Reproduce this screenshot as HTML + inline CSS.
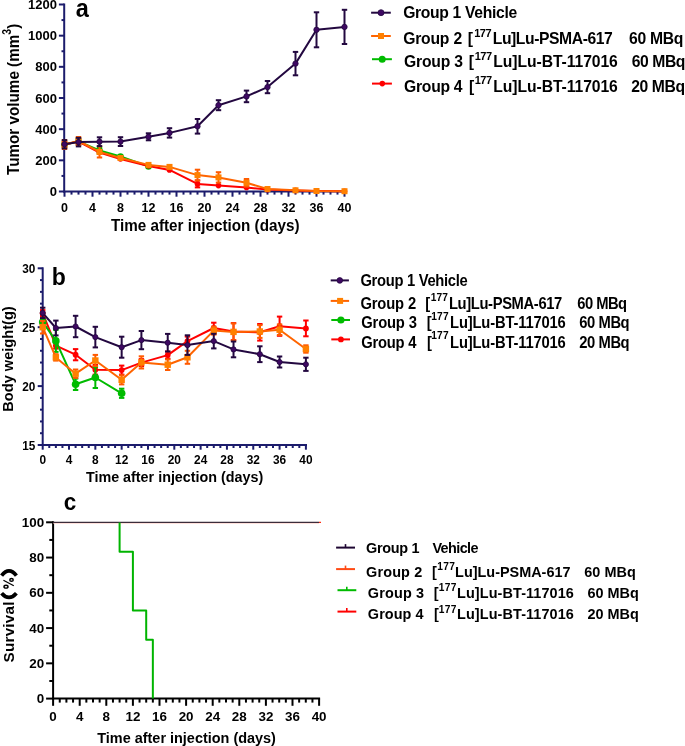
<!DOCTYPE html>
<html><head><meta charset="utf-8"><style>
html,body{margin:0;padding:0;background:#fff;}
svg{display:block;will-change:transform;}
</style></head><body>
<svg width="685" height="746" viewBox="0 0 685 746">
<rect width="685" height="746" fill="#fff"/>
<g font-family="Liberation Sans, sans-serif" font-weight="bold">
<line x1="64.20" y1="3.50" x2="64.20" y2="192.50" stroke="#1c1c6c" stroke-width="2" stroke-linecap="butt"/>
<line x1="63.20" y1="191.50" x2="345.80" y2="191.50" stroke="#1c1c6c" stroke-width="2" stroke-linecap="butt"/>
<line x1="61.50" y1="175.92" x2="64.20" y2="175.92" stroke="#1c1c6c" stroke-width="2" stroke-linecap="butt"/>
<line x1="61.50" y1="144.75" x2="64.20" y2="144.75" stroke="#1c1c6c" stroke-width="2" stroke-linecap="butt"/>
<line x1="61.50" y1="113.58" x2="64.20" y2="113.58" stroke="#1c1c6c" stroke-width="2" stroke-linecap="butt"/>
<line x1="61.50" y1="82.42" x2="64.20" y2="82.42" stroke="#1c1c6c" stroke-width="2" stroke-linecap="butt"/>
<line x1="61.50" y1="51.25" x2="64.20" y2="51.25" stroke="#1c1c6c" stroke-width="2" stroke-linecap="butt"/>
<line x1="61.50" y1="20.08" x2="64.20" y2="20.08" stroke="#1c1c6c" stroke-width="2" stroke-linecap="butt"/>
<line x1="58.90" y1="191.50" x2="64.20" y2="191.50" stroke="#1c1c6c" stroke-width="2" stroke-linecap="butt"/>
<text transform="translate(57.00,196.10) scale(1,1.04)" font-size="13.0" text-anchor="end" fill="#000" >0</text>
<line x1="58.90" y1="160.33" x2="64.20" y2="160.33" stroke="#1c1c6c" stroke-width="2" stroke-linecap="butt"/>
<text transform="translate(57.00,164.93) scale(1,1.04)" font-size="13.0" text-anchor="end" fill="#000" >200</text>
<line x1="58.90" y1="129.17" x2="64.20" y2="129.17" stroke="#1c1c6c" stroke-width="2" stroke-linecap="butt"/>
<text transform="translate(57.00,133.77) scale(1,1.04)" font-size="13.0" text-anchor="end" fill="#000" >400</text>
<line x1="58.90" y1="98.00" x2="64.20" y2="98.00" stroke="#1c1c6c" stroke-width="2" stroke-linecap="butt"/>
<text transform="translate(57.00,102.60) scale(1,1.04)" font-size="13.0" text-anchor="end" fill="#000" >600</text>
<line x1="58.90" y1="66.83" x2="64.20" y2="66.83" stroke="#1c1c6c" stroke-width="2" stroke-linecap="butt"/>
<text transform="translate(57.00,71.43) scale(1,1.04)" font-size="13.0" text-anchor="end" fill="#000" >800</text>
<line x1="58.90" y1="35.67" x2="64.20" y2="35.67" stroke="#1c1c6c" stroke-width="2" stroke-linecap="butt"/>
<text transform="translate(57.00,40.27) scale(1,1.04)" font-size="13.0" text-anchor="end" fill="#000" >1000</text>
<line x1="58.90" y1="4.50" x2="64.20" y2="4.50" stroke="#1c1c6c" stroke-width="2" stroke-linecap="butt"/>
<text transform="translate(57.00,9.10) scale(1,1.04)" font-size="13.0" text-anchor="end" fill="#000" >1200</text>
<line x1="64.50" y1="191.50" x2="64.50" y2="196.70" stroke="#1c1c6c" stroke-width="2" stroke-linecap="butt"/>
<text transform="translate(64.50,211.70) scale(1,1.04)" font-size="12.5" text-anchor="middle" fill="#000" >0</text>
<line x1="71.50" y1="191.50" x2="71.50" y2="194.60" stroke="#1c1c6c" stroke-width="2" stroke-linecap="butt"/>
<line x1="78.50" y1="191.50" x2="78.50" y2="194.60" stroke="#1c1c6c" stroke-width="2" stroke-linecap="butt"/>
<line x1="85.50" y1="191.50" x2="85.50" y2="194.60" stroke="#1c1c6c" stroke-width="2" stroke-linecap="butt"/>
<line x1="92.50" y1="191.50" x2="92.50" y2="196.70" stroke="#1c1c6c" stroke-width="2" stroke-linecap="butt"/>
<text transform="translate(92.50,211.70) scale(1,1.04)" font-size="12.5" text-anchor="middle" fill="#000" >4</text>
<line x1="99.50" y1="191.50" x2="99.50" y2="194.60" stroke="#1c1c6c" stroke-width="2" stroke-linecap="butt"/>
<line x1="106.50" y1="191.50" x2="106.50" y2="194.60" stroke="#1c1c6c" stroke-width="2" stroke-linecap="butt"/>
<line x1="113.50" y1="191.50" x2="113.50" y2="194.60" stroke="#1c1c6c" stroke-width="2" stroke-linecap="butt"/>
<line x1="120.50" y1="191.50" x2="120.50" y2="196.70" stroke="#1c1c6c" stroke-width="2" stroke-linecap="butt"/>
<text transform="translate(120.50,211.70) scale(1,1.04)" font-size="12.5" text-anchor="middle" fill="#000" >8</text>
<line x1="127.50" y1="191.50" x2="127.50" y2="194.60" stroke="#1c1c6c" stroke-width="2" stroke-linecap="butt"/>
<line x1="134.50" y1="191.50" x2="134.50" y2="194.60" stroke="#1c1c6c" stroke-width="2" stroke-linecap="butt"/>
<line x1="141.50" y1="191.50" x2="141.50" y2="194.60" stroke="#1c1c6c" stroke-width="2" stroke-linecap="butt"/>
<line x1="148.50" y1="191.50" x2="148.50" y2="196.70" stroke="#1c1c6c" stroke-width="2" stroke-linecap="butt"/>
<text transform="translate(148.50,211.70) scale(1,1.04)" font-size="12.5" text-anchor="middle" fill="#000" >12</text>
<line x1="155.50" y1="191.50" x2="155.50" y2="194.60" stroke="#1c1c6c" stroke-width="2" stroke-linecap="butt"/>
<line x1="162.50" y1="191.50" x2="162.50" y2="194.60" stroke="#1c1c6c" stroke-width="2" stroke-linecap="butt"/>
<line x1="169.50" y1="191.50" x2="169.50" y2="194.60" stroke="#1c1c6c" stroke-width="2" stroke-linecap="butt"/>
<line x1="176.50" y1="191.50" x2="176.50" y2="196.70" stroke="#1c1c6c" stroke-width="2" stroke-linecap="butt"/>
<text transform="translate(176.50,211.70) scale(1,1.04)" font-size="12.5" text-anchor="middle" fill="#000" >16</text>
<line x1="183.50" y1="191.50" x2="183.50" y2="194.60" stroke="#1c1c6c" stroke-width="2" stroke-linecap="butt"/>
<line x1="190.50" y1="191.50" x2="190.50" y2="194.60" stroke="#1c1c6c" stroke-width="2" stroke-linecap="butt"/>
<line x1="197.50" y1="191.50" x2="197.50" y2="194.60" stroke="#1c1c6c" stroke-width="2" stroke-linecap="butt"/>
<line x1="204.50" y1="191.50" x2="204.50" y2="196.70" stroke="#1c1c6c" stroke-width="2" stroke-linecap="butt"/>
<text transform="translate(204.50,211.70) scale(1,1.04)" font-size="12.5" text-anchor="middle" fill="#000" >20</text>
<line x1="211.50" y1="191.50" x2="211.50" y2="194.60" stroke="#1c1c6c" stroke-width="2" stroke-linecap="butt"/>
<line x1="218.50" y1="191.50" x2="218.50" y2="194.60" stroke="#1c1c6c" stroke-width="2" stroke-linecap="butt"/>
<line x1="225.50" y1="191.50" x2="225.50" y2="194.60" stroke="#1c1c6c" stroke-width="2" stroke-linecap="butt"/>
<line x1="232.50" y1="191.50" x2="232.50" y2="196.70" stroke="#1c1c6c" stroke-width="2" stroke-linecap="butt"/>
<text transform="translate(232.50,211.70) scale(1,1.04)" font-size="12.5" text-anchor="middle" fill="#000" >24</text>
<line x1="239.50" y1="191.50" x2="239.50" y2="194.60" stroke="#1c1c6c" stroke-width="2" stroke-linecap="butt"/>
<line x1="246.50" y1="191.50" x2="246.50" y2="194.60" stroke="#1c1c6c" stroke-width="2" stroke-linecap="butt"/>
<line x1="253.50" y1="191.50" x2="253.50" y2="194.60" stroke="#1c1c6c" stroke-width="2" stroke-linecap="butt"/>
<line x1="260.50" y1="191.50" x2="260.50" y2="196.70" stroke="#1c1c6c" stroke-width="2" stroke-linecap="butt"/>
<text transform="translate(260.50,211.70) scale(1,1.04)" font-size="12.5" text-anchor="middle" fill="#000" >28</text>
<line x1="267.50" y1="191.50" x2="267.50" y2="194.60" stroke="#1c1c6c" stroke-width="2" stroke-linecap="butt"/>
<line x1="274.50" y1="191.50" x2="274.50" y2="194.60" stroke="#1c1c6c" stroke-width="2" stroke-linecap="butt"/>
<line x1="281.50" y1="191.50" x2="281.50" y2="194.60" stroke="#1c1c6c" stroke-width="2" stroke-linecap="butt"/>
<line x1="288.50" y1="191.50" x2="288.50" y2="196.70" stroke="#1c1c6c" stroke-width="2" stroke-linecap="butt"/>
<text transform="translate(288.50,211.70) scale(1,1.04)" font-size="12.5" text-anchor="middle" fill="#000" >32</text>
<line x1="295.50" y1="191.50" x2="295.50" y2="194.60" stroke="#1c1c6c" stroke-width="2" stroke-linecap="butt"/>
<line x1="302.50" y1="191.50" x2="302.50" y2="194.60" stroke="#1c1c6c" stroke-width="2" stroke-linecap="butt"/>
<line x1="309.50" y1="191.50" x2="309.50" y2="194.60" stroke="#1c1c6c" stroke-width="2" stroke-linecap="butt"/>
<line x1="316.50" y1="191.50" x2="316.50" y2="196.70" stroke="#1c1c6c" stroke-width="2" stroke-linecap="butt"/>
<text transform="translate(316.50,211.70) scale(1,1.04)" font-size="12.5" text-anchor="middle" fill="#000" >36</text>
<line x1="323.50" y1="191.50" x2="323.50" y2="194.60" stroke="#1c1c6c" stroke-width="2" stroke-linecap="butt"/>
<line x1="330.50" y1="191.50" x2="330.50" y2="194.60" stroke="#1c1c6c" stroke-width="2" stroke-linecap="butt"/>
<line x1="337.50" y1="191.50" x2="337.50" y2="194.60" stroke="#1c1c6c" stroke-width="2" stroke-linecap="butt"/>
<line x1="344.50" y1="191.50" x2="344.50" y2="196.70" stroke="#1c1c6c" stroke-width="2" stroke-linecap="butt"/>
<text transform="translate(344.50,211.70) scale(1,1.04)" font-size="12.5" text-anchor="middle" fill="#000" >40</text>
<polyline points="64.50,144.50 78.50,141.50 99.50,150.50 120.50,156.50 148.50,166.40" fill="none" stroke="#00bb00" stroke-width="2" stroke-linejoin="round"/>
<line x1="64.50" y1="141.50" x2="64.50" y2="147.50" stroke="#00bb00" stroke-width="2" stroke-linecap="butt"/>
<line x1="61.80" y1="141.50" x2="67.20" y2="141.50" stroke="#00bb00" stroke-width="2" stroke-linecap="butt"/>
<line x1="61.80" y1="147.50" x2="67.20" y2="147.50" stroke="#00bb00" stroke-width="2" stroke-linecap="butt"/>
<line x1="78.50" y1="138.50" x2="78.50" y2="144.50" stroke="#00bb00" stroke-width="2" stroke-linecap="butt"/>
<line x1="75.80" y1="138.50" x2="81.20" y2="138.50" stroke="#00bb00" stroke-width="2" stroke-linecap="butt"/>
<line x1="75.80" y1="144.50" x2="81.20" y2="144.50" stroke="#00bb00" stroke-width="2" stroke-linecap="butt"/>
<line x1="99.50" y1="147.50" x2="99.50" y2="153.50" stroke="#00bb00" stroke-width="2" stroke-linecap="butt"/>
<line x1="96.80" y1="147.50" x2="102.20" y2="147.50" stroke="#00bb00" stroke-width="2" stroke-linecap="butt"/>
<line x1="96.80" y1="153.50" x2="102.20" y2="153.50" stroke="#00bb00" stroke-width="2" stroke-linecap="butt"/>
<circle cx="64.50" cy="144.50" r="3.3" fill="#00bb00"/>
<circle cx="78.50" cy="141.50" r="3.3" fill="#00bb00"/>
<circle cx="99.50" cy="150.50" r="3.3" fill="#00bb00"/>
<circle cx="120.50" cy="156.50" r="3.3" fill="#00bb00"/>
<circle cx="148.50" cy="166.40" r="3.3" fill="#00bb00"/>
<polyline points="64.50,144.50 78.50,141.50 99.50,152.50 120.50,159.00 148.50,166.00 169.50,169.90 197.50,183.90 218.50,185.60 246.50,187.40 267.50,189.60 295.50,190.40 316.50,191.00 344.50,191.20" fill="none" stroke="#ff0000" stroke-width="2" stroke-linejoin="round"/>
<line x1="64.50" y1="141.50" x2="64.50" y2="147.50" stroke="#ff0000" stroke-width="2" stroke-linecap="butt"/>
<line x1="61.80" y1="141.50" x2="67.20" y2="141.50" stroke="#ff0000" stroke-width="2" stroke-linecap="butt"/>
<line x1="61.80" y1="147.50" x2="67.20" y2="147.50" stroke="#ff0000" stroke-width="2" stroke-linecap="butt"/>
<line x1="78.50" y1="138.50" x2="78.50" y2="144.50" stroke="#ff0000" stroke-width="2" stroke-linecap="butt"/>
<line x1="75.80" y1="138.50" x2="81.20" y2="138.50" stroke="#ff0000" stroke-width="2" stroke-linecap="butt"/>
<line x1="75.80" y1="144.50" x2="81.20" y2="144.50" stroke="#ff0000" stroke-width="2" stroke-linecap="butt"/>
<line x1="197.50" y1="180.40" x2="197.50" y2="187.40" stroke="#ff0000" stroke-width="2" stroke-linecap="butt"/>
<line x1="194.80" y1="180.40" x2="200.20" y2="180.40" stroke="#ff0000" stroke-width="2" stroke-linecap="butt"/>
<line x1="194.80" y1="187.40" x2="200.20" y2="187.40" stroke="#ff0000" stroke-width="2" stroke-linecap="butt"/>
<circle cx="64.50" cy="144.50" r="2.8" fill="#ff0000"/>
<circle cx="78.50" cy="141.50" r="2.8" fill="#ff0000"/>
<circle cx="99.50" cy="152.50" r="2.8" fill="#ff0000"/>
<circle cx="120.50" cy="159.00" r="2.8" fill="#ff0000"/>
<circle cx="148.50" cy="166.00" r="2.8" fill="#ff0000"/>
<circle cx="169.50" cy="169.90" r="2.8" fill="#ff0000"/>
<circle cx="197.50" cy="183.90" r="2.8" fill="#ff0000"/>
<circle cx="218.50" cy="185.60" r="2.8" fill="#ff0000"/>
<circle cx="246.50" cy="187.40" r="2.8" fill="#ff0000"/>
<circle cx="267.50" cy="189.60" r="2.8" fill="#ff0000"/>
<circle cx="295.50" cy="190.40" r="2.8" fill="#ff0000"/>
<circle cx="316.50" cy="191.00" r="2.8" fill="#ff0000"/>
<circle cx="344.50" cy="191.20" r="2.8" fill="#ff0000"/>
<polyline points="64.50,144.50 78.50,141.00 99.50,151.90 120.50,158.00 148.50,164.90 169.50,166.90 197.50,175.10 218.50,177.40 246.50,182.80 267.50,189.00 295.50,190.30 316.50,191.00 344.50,191.20" fill="none" stroke="#ff6400" stroke-width="2" stroke-linejoin="round"/>
<line x1="64.50" y1="140.00" x2="64.50" y2="149.00" stroke="#ff5a00" stroke-width="2" stroke-linecap="butt"/>
<line x1="61.80" y1="140.00" x2="67.20" y2="140.00" stroke="#ff5a00" stroke-width="2" stroke-linecap="butt"/>
<line x1="61.80" y1="149.00" x2="67.20" y2="149.00" stroke="#ff5a00" stroke-width="2" stroke-linecap="butt"/>
<line x1="78.50" y1="137.00" x2="78.50" y2="145.00" stroke="#ff5a00" stroke-width="2" stroke-linecap="butt"/>
<line x1="75.80" y1="137.00" x2="81.20" y2="137.00" stroke="#ff5a00" stroke-width="2" stroke-linecap="butt"/>
<line x1="75.80" y1="145.00" x2="81.20" y2="145.00" stroke="#ff5a00" stroke-width="2" stroke-linecap="butt"/>
<line x1="99.50" y1="146.30" x2="99.50" y2="157.50" stroke="#ff5a00" stroke-width="2" stroke-linecap="butt"/>
<line x1="96.80" y1="146.30" x2="102.20" y2="146.30" stroke="#ff5a00" stroke-width="2" stroke-linecap="butt"/>
<line x1="96.80" y1="157.50" x2="102.20" y2="157.50" stroke="#ff5a00" stroke-width="2" stroke-linecap="butt"/>
<line x1="197.50" y1="169.70" x2="197.50" y2="180.50" stroke="#ff5a00" stroke-width="2" stroke-linecap="butt"/>
<line x1="194.80" y1="169.70" x2="200.20" y2="169.70" stroke="#ff5a00" stroke-width="2" stroke-linecap="butt"/>
<line x1="194.80" y1="180.50" x2="200.20" y2="180.50" stroke="#ff5a00" stroke-width="2" stroke-linecap="butt"/>
<line x1="218.50" y1="172.20" x2="218.50" y2="182.60" stroke="#ff5a00" stroke-width="2" stroke-linecap="butt"/>
<line x1="215.80" y1="172.20" x2="221.20" y2="172.20" stroke="#ff5a00" stroke-width="2" stroke-linecap="butt"/>
<line x1="215.80" y1="182.60" x2="221.20" y2="182.60" stroke="#ff5a00" stroke-width="2" stroke-linecap="butt"/>
<line x1="246.50" y1="179.00" x2="246.50" y2="186.60" stroke="#ff5a00" stroke-width="2" stroke-linecap="butt"/>
<line x1="243.80" y1="179.00" x2="249.20" y2="179.00" stroke="#ff5a00" stroke-width="2" stroke-linecap="butt"/>
<line x1="243.80" y1="186.60" x2="249.20" y2="186.60" stroke="#ff5a00" stroke-width="2" stroke-linecap="butt"/>
<rect x="61.50" y="141.50" width="6" height="6" fill="#ff8000"/>
<rect x="75.50" y="138.00" width="6" height="6" fill="#ff8000"/>
<rect x="96.50" y="148.90" width="6" height="6" fill="#ff8000"/>
<rect x="117.50" y="155.00" width="6" height="6" fill="#ff8000"/>
<rect x="145.50" y="161.90" width="6" height="6" fill="#ff8000"/>
<rect x="166.50" y="163.90" width="6" height="6" fill="#ff8000"/>
<rect x="194.50" y="172.10" width="6" height="6" fill="#ff8000"/>
<rect x="215.50" y="174.40" width="6" height="6" fill="#ff8000"/>
<rect x="243.50" y="179.80" width="6" height="6" fill="#ff8000"/>
<rect x="264.50" y="186.00" width="6" height="6" fill="#ff8000"/>
<rect x="292.50" y="187.30" width="6" height="6" fill="#ff8000"/>
<rect x="313.50" y="188.00" width="6" height="6" fill="#ff8000"/>
<rect x="341.50" y="188.20" width="6" height="6" fill="#ff8000"/>
<polyline points="64.50,144.30 78.50,142.10 99.50,141.70 120.50,141.60 148.50,136.80 169.50,132.90 197.50,126.30 218.50,105.20 246.50,96.40 267.50,87.10 295.50,63.60 316.50,29.80 344.50,26.90" fill="none" stroke="#230840" stroke-width="2" stroke-linejoin="round"/>
<line x1="64.50" y1="140.10" x2="64.50" y2="148.50" stroke="#230840" stroke-width="2" stroke-linecap="butt"/>
<line x1="61.80" y1="140.10" x2="67.20" y2="140.10" stroke="#230840" stroke-width="2" stroke-linecap="butt"/>
<line x1="61.80" y1="148.50" x2="67.20" y2="148.50" stroke="#230840" stroke-width="2" stroke-linecap="butt"/>
<line x1="78.50" y1="137.80" x2="78.50" y2="146.40" stroke="#230840" stroke-width="2" stroke-linecap="butt"/>
<line x1="75.80" y1="137.80" x2="81.20" y2="137.80" stroke="#230840" stroke-width="2" stroke-linecap="butt"/>
<line x1="75.80" y1="146.40" x2="81.20" y2="146.40" stroke="#230840" stroke-width="2" stroke-linecap="butt"/>
<line x1="99.50" y1="137.30" x2="99.50" y2="146.10" stroke="#230840" stroke-width="2" stroke-linecap="butt"/>
<line x1="96.80" y1="137.30" x2="102.20" y2="137.30" stroke="#230840" stroke-width="2" stroke-linecap="butt"/>
<line x1="96.80" y1="146.10" x2="102.20" y2="146.10" stroke="#230840" stroke-width="2" stroke-linecap="butt"/>
<line x1="120.50" y1="137.20" x2="120.50" y2="146.00" stroke="#230840" stroke-width="2" stroke-linecap="butt"/>
<line x1="117.80" y1="137.20" x2="123.20" y2="137.20" stroke="#230840" stroke-width="2" stroke-linecap="butt"/>
<line x1="117.80" y1="146.00" x2="123.20" y2="146.00" stroke="#230840" stroke-width="2" stroke-linecap="butt"/>
<line x1="148.50" y1="133.30" x2="148.50" y2="140.30" stroke="#230840" stroke-width="2" stroke-linecap="butt"/>
<line x1="145.80" y1="133.30" x2="151.20" y2="133.30" stroke="#230840" stroke-width="2" stroke-linecap="butt"/>
<line x1="145.80" y1="140.30" x2="151.20" y2="140.30" stroke="#230840" stroke-width="2" stroke-linecap="butt"/>
<line x1="169.50" y1="128.20" x2="169.50" y2="137.60" stroke="#230840" stroke-width="2" stroke-linecap="butt"/>
<line x1="166.80" y1="128.20" x2="172.20" y2="128.20" stroke="#230840" stroke-width="2" stroke-linecap="butt"/>
<line x1="166.80" y1="137.60" x2="172.20" y2="137.60" stroke="#230840" stroke-width="2" stroke-linecap="butt"/>
<line x1="197.50" y1="119.00" x2="197.50" y2="133.60" stroke="#230840" stroke-width="2" stroke-linecap="butt"/>
<line x1="194.80" y1="119.00" x2="200.20" y2="119.00" stroke="#230840" stroke-width="2" stroke-linecap="butt"/>
<line x1="194.80" y1="133.60" x2="200.20" y2="133.60" stroke="#230840" stroke-width="2" stroke-linecap="butt"/>
<line x1="218.50" y1="100.20" x2="218.50" y2="110.20" stroke="#230840" stroke-width="2" stroke-linecap="butt"/>
<line x1="215.80" y1="100.20" x2="221.20" y2="100.20" stroke="#230840" stroke-width="2" stroke-linecap="butt"/>
<line x1="215.80" y1="110.20" x2="221.20" y2="110.20" stroke="#230840" stroke-width="2" stroke-linecap="butt"/>
<line x1="246.50" y1="90.60" x2="246.50" y2="102.20" stroke="#230840" stroke-width="2" stroke-linecap="butt"/>
<line x1="243.80" y1="90.60" x2="249.20" y2="90.60" stroke="#230840" stroke-width="2" stroke-linecap="butt"/>
<line x1="243.80" y1="102.20" x2="249.20" y2="102.20" stroke="#230840" stroke-width="2" stroke-linecap="butt"/>
<line x1="267.50" y1="81.00" x2="267.50" y2="93.20" stroke="#230840" stroke-width="2" stroke-linecap="butt"/>
<line x1="264.80" y1="81.00" x2="270.20" y2="81.00" stroke="#230840" stroke-width="2" stroke-linecap="butt"/>
<line x1="264.80" y1="93.20" x2="270.20" y2="93.20" stroke="#230840" stroke-width="2" stroke-linecap="butt"/>
<line x1="295.50" y1="51.90" x2="295.50" y2="75.30" stroke="#230840" stroke-width="2" stroke-linecap="butt"/>
<line x1="292.80" y1="51.90" x2="298.20" y2="51.90" stroke="#230840" stroke-width="2" stroke-linecap="butt"/>
<line x1="292.80" y1="75.30" x2="298.20" y2="75.30" stroke="#230840" stroke-width="2" stroke-linecap="butt"/>
<line x1="316.50" y1="12.30" x2="316.50" y2="47.30" stroke="#230840" stroke-width="2" stroke-linecap="butt"/>
<line x1="313.80" y1="12.30" x2="319.20" y2="12.30" stroke="#230840" stroke-width="2" stroke-linecap="butt"/>
<line x1="313.80" y1="47.30" x2="319.20" y2="47.30" stroke="#230840" stroke-width="2" stroke-linecap="butt"/>
<line x1="344.50" y1="9.80" x2="344.50" y2="44.00" stroke="#230840" stroke-width="2" stroke-linecap="butt"/>
<line x1="341.80" y1="9.80" x2="347.20" y2="9.80" stroke="#230840" stroke-width="2" stroke-linecap="butt"/>
<line x1="341.80" y1="44.00" x2="347.20" y2="44.00" stroke="#230840" stroke-width="2" stroke-linecap="butt"/>
<circle cx="64.50" cy="144.30" r="2.7" fill="#3e0862" stroke="#230840" stroke-width="0.8"/>
<circle cx="78.50" cy="142.10" r="2.7" fill="#3e0862" stroke="#230840" stroke-width="0.8"/>
<circle cx="99.50" cy="141.70" r="2.7" fill="#3e0862" stroke="#230840" stroke-width="0.8"/>
<circle cx="120.50" cy="141.60" r="2.7" fill="#3e0862" stroke="#230840" stroke-width="0.8"/>
<circle cx="148.50" cy="136.80" r="2.7" fill="#3e0862" stroke="#230840" stroke-width="0.8"/>
<circle cx="169.50" cy="132.90" r="2.7" fill="#3e0862" stroke="#230840" stroke-width="0.8"/>
<circle cx="197.50" cy="126.30" r="2.7" fill="#3e0862" stroke="#230840" stroke-width="0.8"/>
<circle cx="218.50" cy="105.20" r="2.7" fill="#3e0862" stroke="#230840" stroke-width="0.8"/>
<circle cx="246.50" cy="96.40" r="2.7" fill="#3e0862" stroke="#230840" stroke-width="0.8"/>
<circle cx="267.50" cy="87.10" r="2.7" fill="#3e0862" stroke="#230840" stroke-width="0.8"/>
<circle cx="295.50" cy="63.60" r="2.7" fill="#3e0862" stroke="#230840" stroke-width="0.8"/>
<circle cx="316.50" cy="29.80" r="2.7" fill="#3e0862" stroke="#230840" stroke-width="0.8"/>
<circle cx="344.50" cy="26.90" r="2.7" fill="#3e0862" stroke="#230840" stroke-width="0.8"/>
<text transform="translate(75.70,17.00) scale(1,1.08)" font-size="23.5" text-anchor="start" fill="#000" >a</text>
<text transform="translate(205.20,230.80) scale(1,1.14)" font-size="15.25" text-anchor="middle" fill="#000" >Time after injection (days)</text>
<text transform="translate(18.7,175.0) rotate(-90) scale(1,1.14)" font-size="15.25">Tumor volume (mm<tspan font-size="10.5" dy="-6.5">3</tspan><tspan dy="6.5">)</tspan></text>
<line x1="371.10" y1="12.70" x2="390.80" y2="12.70" stroke="#230840" stroke-width="2" stroke-linecap="butt"/>
<circle cx="381.00" cy="12.70" r="3" fill="#3e0862" stroke="#230840" stroke-width="0.8"/>
<line x1="371.10" y1="36.00" x2="390.80" y2="36.00" stroke="#ff6400" stroke-width="2" stroke-linecap="butt"/>
<rect x="378.00" y="33.00" width="6" height="6" fill="#ff8000"/>
<line x1="372.00" y1="59.20" x2="391.90" y2="59.20" stroke="#00bb00" stroke-width="2" stroke-linecap="butt"/>
<circle cx="382.20" cy="59.20" r="3.5" fill="#00bb00"/>
<line x1="372.00" y1="83.60" x2="391.90" y2="83.60" stroke="#ff0000" stroke-width="2" stroke-linecap="butt"/>
<circle cx="382.30" cy="83.60" r="2.8" fill="#ff0000"/>
<text transform="translate(403.17,17.50) scale(1,1.058)" font-size="15.7" text-anchor="start" fill="#000" letter-spacing="-0.332">Group 1 Vehicle</text>
<text transform="translate(403.17,44.20) scale(1,1.058)" font-size="15.7" text-anchor="start" fill="#000" letter-spacing="-0.205">Group 2</text>
<text transform="translate(467.84,44.20) scale(1,1.058)" font-size="15.7" text-anchor="start" fill="#000" >[</text>
<text transform="translate(474.21,36.90) scale(1,1.058)" font-size="11.02" text-anchor="start" fill="#000" letter-spacing="-0.462">177</text>
<text transform="translate(492.74,44.20) scale(1,1.058)" font-size="15.7" text-anchor="start" fill="#000" letter-spacing="-0.423">Lu]Lu-PSMA-617</text>
<text transform="translate(629.11,44.20) scale(1,1.058)" font-size="15.7" text-anchor="start" fill="#000" letter-spacing="-0.324">60 MBq</text>
<text transform="translate(404.07,67.20) scale(1,1.058)" font-size="15.7" text-anchor="start" fill="#000" letter-spacing="-0.201">Group 3</text>
<text transform="translate(468.84,67.20) scale(1,1.058)" font-size="15.7" text-anchor="start" fill="#000" >[</text>
<text transform="translate(474.71,59.70) scale(1,1.058)" font-size="11.02" text-anchor="start" fill="#000" letter-spacing="-0.462">177</text>
<text transform="translate(493.34,67.20) scale(1,1.058)" font-size="15.7" text-anchor="start" fill="#000" letter-spacing="-0.080">Lu]Lu-BT-117016</text>
<text transform="translate(631.71,67.20) scale(1,1.058)" font-size="15.7" text-anchor="start" fill="#000" letter-spacing="-0.417">60 MBq</text>
<text transform="translate(404.07,92.00) scale(1,1.058)" font-size="15.7" text-anchor="start" fill="#000" letter-spacing="-0.280">Group 4</text>
<text transform="translate(468.94,92.00) scale(1,1.058)" font-size="15.7" text-anchor="start" fill="#000" >[</text>
<text transform="translate(474.71,83.90) scale(1,1.058)" font-size="11.02" text-anchor="start" fill="#000" letter-spacing="-0.462">177</text>
<text transform="translate(493.34,92.00) scale(1,1.058)" font-size="15.7" text-anchor="start" fill="#000" letter-spacing="-0.080">Lu]Lu-BT-117016</text>
<text transform="translate(631.25,92.00) scale(1,1.058)" font-size="15.7" text-anchor="start" fill="#000" letter-spacing="-0.417">20 MBq</text>
<line x1="42.70" y1="267.30" x2="42.70" y2="446.00" stroke="#1c1c6c" stroke-width="2" stroke-linecap="butt"/>
<line x1="41.70" y1="445.00" x2="307.00" y2="445.00" stroke="#1c1c6c" stroke-width="2" stroke-linecap="butt"/>
<line x1="40.00" y1="433.22" x2="42.70" y2="433.22" stroke="#1c1c6c" stroke-width="2" stroke-linecap="butt"/>
<line x1="40.00" y1="421.44" x2="42.70" y2="421.44" stroke="#1c1c6c" stroke-width="2" stroke-linecap="butt"/>
<line x1="40.00" y1="409.66" x2="42.70" y2="409.66" stroke="#1c1c6c" stroke-width="2" stroke-linecap="butt"/>
<line x1="40.00" y1="397.88" x2="42.70" y2="397.88" stroke="#1c1c6c" stroke-width="2" stroke-linecap="butt"/>
<line x1="40.00" y1="374.32" x2="42.70" y2="374.32" stroke="#1c1c6c" stroke-width="2" stroke-linecap="butt"/>
<line x1="40.00" y1="362.54" x2="42.70" y2="362.54" stroke="#1c1c6c" stroke-width="2" stroke-linecap="butt"/>
<line x1="40.00" y1="350.76" x2="42.70" y2="350.76" stroke="#1c1c6c" stroke-width="2" stroke-linecap="butt"/>
<line x1="40.00" y1="338.98" x2="42.70" y2="338.98" stroke="#1c1c6c" stroke-width="2" stroke-linecap="butt"/>
<line x1="40.00" y1="315.42" x2="42.70" y2="315.42" stroke="#1c1c6c" stroke-width="2" stroke-linecap="butt"/>
<line x1="40.00" y1="303.64" x2="42.70" y2="303.64" stroke="#1c1c6c" stroke-width="2" stroke-linecap="butt"/>
<line x1="40.00" y1="291.86" x2="42.70" y2="291.86" stroke="#1c1c6c" stroke-width="2" stroke-linecap="butt"/>
<line x1="40.00" y1="280.08" x2="42.70" y2="280.08" stroke="#1c1c6c" stroke-width="2" stroke-linecap="butt"/>
<line x1="37.70" y1="445.00" x2="42.70" y2="445.00" stroke="#1c1c6c" stroke-width="2" stroke-linecap="butt"/>
<text transform="translate(35.40,450.00) scale(1,1.08)" font-size="11.8" text-anchor="end" fill="#000" >15</text>
<line x1="37.70" y1="386.10" x2="42.70" y2="386.10" stroke="#1c1c6c" stroke-width="2" stroke-linecap="butt"/>
<text transform="translate(35.40,391.10) scale(1,1.08)" font-size="11.8" text-anchor="end" fill="#000" >20</text>
<line x1="37.70" y1="327.20" x2="42.70" y2="327.20" stroke="#1c1c6c" stroke-width="2" stroke-linecap="butt"/>
<text transform="translate(35.40,332.20) scale(1,1.08)" font-size="11.8" text-anchor="end" fill="#000" >25</text>
<line x1="37.70" y1="268.30" x2="42.70" y2="268.30" stroke="#1c1c6c" stroke-width="2" stroke-linecap="butt"/>
<text transform="translate(35.40,273.30) scale(1,1.08)" font-size="11.8" text-anchor="end" fill="#000" >30</text>
<line x1="42.70" y1="445.00" x2="42.70" y2="449.70" stroke="#1c1c6c" stroke-width="2" stroke-linecap="butt"/>
<text transform="translate(42.70,464.30) scale(1,1.08)" font-size="11.9" text-anchor="middle" fill="#000" >0</text>
<line x1="49.28" y1="445.00" x2="49.28" y2="448.00" stroke="#1c1c6c" stroke-width="2" stroke-linecap="butt"/>
<line x1="55.86" y1="445.00" x2="55.86" y2="448.00" stroke="#1c1c6c" stroke-width="2" stroke-linecap="butt"/>
<line x1="62.44" y1="445.00" x2="62.44" y2="448.00" stroke="#1c1c6c" stroke-width="2" stroke-linecap="butt"/>
<line x1="69.02" y1="445.00" x2="69.02" y2="449.70" stroke="#1c1c6c" stroke-width="2" stroke-linecap="butt"/>
<text transform="translate(69.02,464.30) scale(1,1.08)" font-size="11.9" text-anchor="middle" fill="#000" >4</text>
<line x1="75.60" y1="445.00" x2="75.60" y2="448.00" stroke="#1c1c6c" stroke-width="2" stroke-linecap="butt"/>
<line x1="82.18" y1="445.00" x2="82.18" y2="448.00" stroke="#1c1c6c" stroke-width="2" stroke-linecap="butt"/>
<line x1="88.76" y1="445.00" x2="88.76" y2="448.00" stroke="#1c1c6c" stroke-width="2" stroke-linecap="butt"/>
<line x1="95.34" y1="445.00" x2="95.34" y2="449.70" stroke="#1c1c6c" stroke-width="2" stroke-linecap="butt"/>
<text transform="translate(95.34,464.30) scale(1,1.08)" font-size="11.9" text-anchor="middle" fill="#000" >8</text>
<line x1="101.92" y1="445.00" x2="101.92" y2="448.00" stroke="#1c1c6c" stroke-width="2" stroke-linecap="butt"/>
<line x1="108.50" y1="445.00" x2="108.50" y2="448.00" stroke="#1c1c6c" stroke-width="2" stroke-linecap="butt"/>
<line x1="115.08" y1="445.00" x2="115.08" y2="448.00" stroke="#1c1c6c" stroke-width="2" stroke-linecap="butt"/>
<line x1="121.66" y1="445.00" x2="121.66" y2="449.70" stroke="#1c1c6c" stroke-width="2" stroke-linecap="butt"/>
<text transform="translate(121.66,464.30) scale(1,1.08)" font-size="11.9" text-anchor="middle" fill="#000" >12</text>
<line x1="128.24" y1="445.00" x2="128.24" y2="448.00" stroke="#1c1c6c" stroke-width="2" stroke-linecap="butt"/>
<line x1="134.82" y1="445.00" x2="134.82" y2="448.00" stroke="#1c1c6c" stroke-width="2" stroke-linecap="butt"/>
<line x1="141.40" y1="445.00" x2="141.40" y2="448.00" stroke="#1c1c6c" stroke-width="2" stroke-linecap="butt"/>
<line x1="147.98" y1="445.00" x2="147.98" y2="449.70" stroke="#1c1c6c" stroke-width="2" stroke-linecap="butt"/>
<text transform="translate(147.98,464.30) scale(1,1.08)" font-size="11.9" text-anchor="middle" fill="#000" >16</text>
<line x1="154.56" y1="445.00" x2="154.56" y2="448.00" stroke="#1c1c6c" stroke-width="2" stroke-linecap="butt"/>
<line x1="161.14" y1="445.00" x2="161.14" y2="448.00" stroke="#1c1c6c" stroke-width="2" stroke-linecap="butt"/>
<line x1="167.72" y1="445.00" x2="167.72" y2="448.00" stroke="#1c1c6c" stroke-width="2" stroke-linecap="butt"/>
<line x1="174.30" y1="445.00" x2="174.30" y2="449.70" stroke="#1c1c6c" stroke-width="2" stroke-linecap="butt"/>
<text transform="translate(174.30,464.30) scale(1,1.08)" font-size="11.9" text-anchor="middle" fill="#000" >20</text>
<line x1="180.88" y1="445.00" x2="180.88" y2="448.00" stroke="#1c1c6c" stroke-width="2" stroke-linecap="butt"/>
<line x1="187.46" y1="445.00" x2="187.46" y2="448.00" stroke="#1c1c6c" stroke-width="2" stroke-linecap="butt"/>
<line x1="194.04" y1="445.00" x2="194.04" y2="448.00" stroke="#1c1c6c" stroke-width="2" stroke-linecap="butt"/>
<line x1="200.62" y1="445.00" x2="200.62" y2="449.70" stroke="#1c1c6c" stroke-width="2" stroke-linecap="butt"/>
<text transform="translate(200.62,464.30) scale(1,1.08)" font-size="11.9" text-anchor="middle" fill="#000" >24</text>
<line x1="207.20" y1="445.00" x2="207.20" y2="448.00" stroke="#1c1c6c" stroke-width="2" stroke-linecap="butt"/>
<line x1="213.78" y1="445.00" x2="213.78" y2="448.00" stroke="#1c1c6c" stroke-width="2" stroke-linecap="butt"/>
<line x1="220.36" y1="445.00" x2="220.36" y2="448.00" stroke="#1c1c6c" stroke-width="2" stroke-linecap="butt"/>
<line x1="226.94" y1="445.00" x2="226.94" y2="449.70" stroke="#1c1c6c" stroke-width="2" stroke-linecap="butt"/>
<text transform="translate(226.94,464.30) scale(1,1.08)" font-size="11.9" text-anchor="middle" fill="#000" >28</text>
<line x1="233.52" y1="445.00" x2="233.52" y2="448.00" stroke="#1c1c6c" stroke-width="2" stroke-linecap="butt"/>
<line x1="240.10" y1="445.00" x2="240.10" y2="448.00" stroke="#1c1c6c" stroke-width="2" stroke-linecap="butt"/>
<line x1="246.68" y1="445.00" x2="246.68" y2="448.00" stroke="#1c1c6c" stroke-width="2" stroke-linecap="butt"/>
<line x1="253.26" y1="445.00" x2="253.26" y2="449.70" stroke="#1c1c6c" stroke-width="2" stroke-linecap="butt"/>
<text transform="translate(253.26,464.30) scale(1,1.08)" font-size="11.9" text-anchor="middle" fill="#000" >32</text>
<line x1="259.84" y1="445.00" x2="259.84" y2="448.00" stroke="#1c1c6c" stroke-width="2" stroke-linecap="butt"/>
<line x1="266.42" y1="445.00" x2="266.42" y2="448.00" stroke="#1c1c6c" stroke-width="2" stroke-linecap="butt"/>
<line x1="273.00" y1="445.00" x2="273.00" y2="448.00" stroke="#1c1c6c" stroke-width="2" stroke-linecap="butt"/>
<line x1="279.58" y1="445.00" x2="279.58" y2="449.70" stroke="#1c1c6c" stroke-width="2" stroke-linecap="butt"/>
<text transform="translate(279.58,464.30) scale(1,1.08)" font-size="11.9" text-anchor="middle" fill="#000" >36</text>
<line x1="286.16" y1="445.00" x2="286.16" y2="448.00" stroke="#1c1c6c" stroke-width="2" stroke-linecap="butt"/>
<line x1="292.74" y1="445.00" x2="292.74" y2="448.00" stroke="#1c1c6c" stroke-width="2" stroke-linecap="butt"/>
<line x1="299.32" y1="445.00" x2="299.32" y2="448.00" stroke="#1c1c6c" stroke-width="2" stroke-linecap="butt"/>
<line x1="305.90" y1="445.00" x2="305.90" y2="449.70" stroke="#1c1c6c" stroke-width="2" stroke-linecap="butt"/>
<text transform="translate(305.90,464.30) scale(1,1.08)" font-size="11.9" text-anchor="middle" fill="#000" >40</text>
<polyline points="42.70,313.20 55.86,345.60 75.60,354.70 95.34,369.80 121.66,370.10 141.40,362.60 167.72,355.10 187.46,341.10 213.78,328.00 233.52,331.60 259.84,332.30 279.58,326.20 305.90,328.40" fill="none" stroke="#ff0000" stroke-width="2" stroke-linejoin="round"/>
<line x1="42.70" y1="310.10" x2="42.70" y2="316.30" stroke="#ff0000" stroke-width="2" stroke-linecap="butt"/>
<line x1="40.00" y1="310.10" x2="45.40" y2="310.10" stroke="#ff0000" stroke-width="2" stroke-linecap="butt"/>
<line x1="40.00" y1="316.30" x2="45.40" y2="316.30" stroke="#ff0000" stroke-width="2" stroke-linecap="butt"/>
<line x1="55.86" y1="342.60" x2="55.86" y2="348.60" stroke="#ff0000" stroke-width="2" stroke-linecap="butt"/>
<line x1="53.16" y1="342.60" x2="58.56" y2="342.60" stroke="#ff0000" stroke-width="2" stroke-linecap="butt"/>
<line x1="53.16" y1="348.60" x2="58.56" y2="348.60" stroke="#ff0000" stroke-width="2" stroke-linecap="butt"/>
<line x1="75.60" y1="349.10" x2="75.60" y2="360.30" stroke="#ff0000" stroke-width="2" stroke-linecap="butt"/>
<line x1="72.90" y1="349.10" x2="78.30" y2="349.10" stroke="#ff0000" stroke-width="2" stroke-linecap="butt"/>
<line x1="72.90" y1="360.30" x2="78.30" y2="360.30" stroke="#ff0000" stroke-width="2" stroke-linecap="butt"/>
<line x1="95.34" y1="365.00" x2="95.34" y2="374.60" stroke="#ff0000" stroke-width="2" stroke-linecap="butt"/>
<line x1="92.64" y1="365.00" x2="98.04" y2="365.00" stroke="#ff0000" stroke-width="2" stroke-linecap="butt"/>
<line x1="92.64" y1="374.60" x2="98.04" y2="374.60" stroke="#ff0000" stroke-width="2" stroke-linecap="butt"/>
<line x1="121.66" y1="365.60" x2="121.66" y2="374.60" stroke="#ff0000" stroke-width="2" stroke-linecap="butt"/>
<line x1="118.96" y1="365.60" x2="124.36" y2="365.60" stroke="#ff0000" stroke-width="2" stroke-linecap="butt"/>
<line x1="118.96" y1="374.60" x2="124.36" y2="374.60" stroke="#ff0000" stroke-width="2" stroke-linecap="butt"/>
<line x1="141.40" y1="359.10" x2="141.40" y2="366.10" stroke="#ff0000" stroke-width="2" stroke-linecap="butt"/>
<line x1="138.70" y1="359.10" x2="144.10" y2="359.10" stroke="#ff0000" stroke-width="2" stroke-linecap="butt"/>
<line x1="138.70" y1="366.10" x2="144.10" y2="366.10" stroke="#ff0000" stroke-width="2" stroke-linecap="butt"/>
<line x1="167.72" y1="351.60" x2="167.72" y2="358.60" stroke="#ff0000" stroke-width="2" stroke-linecap="butt"/>
<line x1="165.02" y1="351.60" x2="170.42" y2="351.60" stroke="#ff0000" stroke-width="2" stroke-linecap="butt"/>
<line x1="165.02" y1="358.60" x2="170.42" y2="358.60" stroke="#ff0000" stroke-width="2" stroke-linecap="butt"/>
<line x1="187.46" y1="336.60" x2="187.46" y2="345.60" stroke="#ff0000" stroke-width="2" stroke-linecap="butt"/>
<line x1="184.76" y1="336.60" x2="190.16" y2="336.60" stroke="#ff0000" stroke-width="2" stroke-linecap="butt"/>
<line x1="184.76" y1="345.60" x2="190.16" y2="345.60" stroke="#ff0000" stroke-width="2" stroke-linecap="butt"/>
<line x1="213.78" y1="322.70" x2="213.78" y2="333.30" stroke="#ff0000" stroke-width="2" stroke-linecap="butt"/>
<line x1="211.08" y1="322.70" x2="216.48" y2="322.70" stroke="#ff0000" stroke-width="2" stroke-linecap="butt"/>
<line x1="211.08" y1="333.30" x2="216.48" y2="333.30" stroke="#ff0000" stroke-width="2" stroke-linecap="butt"/>
<line x1="233.52" y1="323.10" x2="233.52" y2="340.10" stroke="#ff0000" stroke-width="2" stroke-linecap="butt"/>
<line x1="230.82" y1="323.10" x2="236.22" y2="323.10" stroke="#ff0000" stroke-width="2" stroke-linecap="butt"/>
<line x1="230.82" y1="340.10" x2="236.22" y2="340.10" stroke="#ff0000" stroke-width="2" stroke-linecap="butt"/>
<line x1="259.84" y1="324.00" x2="259.84" y2="340.60" stroke="#ff0000" stroke-width="2" stroke-linecap="butt"/>
<line x1="257.14" y1="324.00" x2="262.54" y2="324.00" stroke="#ff0000" stroke-width="2" stroke-linecap="butt"/>
<line x1="257.14" y1="340.60" x2="262.54" y2="340.60" stroke="#ff0000" stroke-width="2" stroke-linecap="butt"/>
<line x1="279.58" y1="316.60" x2="279.58" y2="335.80" stroke="#ff0000" stroke-width="2" stroke-linecap="butt"/>
<line x1="276.88" y1="316.60" x2="282.28" y2="316.60" stroke="#ff0000" stroke-width="2" stroke-linecap="butt"/>
<line x1="276.88" y1="335.80" x2="282.28" y2="335.80" stroke="#ff0000" stroke-width="2" stroke-linecap="butt"/>
<line x1="305.90" y1="320.50" x2="305.90" y2="336.30" stroke="#ff0000" stroke-width="2" stroke-linecap="butt"/>
<line x1="303.20" y1="320.50" x2="308.60" y2="320.50" stroke="#ff0000" stroke-width="2" stroke-linecap="butt"/>
<line x1="303.20" y1="336.30" x2="308.60" y2="336.30" stroke="#ff0000" stroke-width="2" stroke-linecap="butt"/>
<circle cx="42.70" cy="313.20" r="2.9" fill="#ff0000"/>
<circle cx="55.86" cy="345.60" r="2.9" fill="#ff0000"/>
<circle cx="75.60" cy="354.70" r="2.9" fill="#ff0000"/>
<circle cx="95.34" cy="369.80" r="2.9" fill="#ff0000"/>
<circle cx="121.66" cy="370.10" r="2.9" fill="#ff0000"/>
<circle cx="141.40" cy="362.60" r="2.9" fill="#ff0000"/>
<circle cx="167.72" cy="355.10" r="2.9" fill="#ff0000"/>
<circle cx="187.46" cy="341.10" r="2.9" fill="#ff0000"/>
<circle cx="213.78" cy="328.00" r="2.9" fill="#ff0000"/>
<circle cx="233.52" cy="331.60" r="2.9" fill="#ff0000"/>
<circle cx="259.84" cy="332.30" r="2.9" fill="#ff0000"/>
<circle cx="279.58" cy="326.20" r="2.9" fill="#ff0000"/>
<circle cx="305.90" cy="328.40" r="2.9" fill="#ff0000"/>
<polyline points="42.70,322.00 55.86,340.90 75.60,384.30 95.34,377.50 121.66,393.30" fill="none" stroke="#00bb00" stroke-width="2" stroke-linejoin="round"/>
<line x1="42.70" y1="319.00" x2="42.70" y2="325.00" stroke="#00bb00" stroke-width="2" stroke-linecap="butt"/>
<line x1="40.00" y1="319.00" x2="45.40" y2="319.00" stroke="#00bb00" stroke-width="2" stroke-linecap="butt"/>
<line x1="40.00" y1="325.00" x2="45.40" y2="325.00" stroke="#00bb00" stroke-width="2" stroke-linecap="butt"/>
<line x1="55.86" y1="329.90" x2="55.86" y2="351.90" stroke="#00bb00" stroke-width="2" stroke-linecap="butt"/>
<line x1="53.16" y1="329.90" x2="58.56" y2="329.90" stroke="#00bb00" stroke-width="2" stroke-linecap="butt"/>
<line x1="53.16" y1="351.90" x2="58.56" y2="351.90" stroke="#00bb00" stroke-width="2" stroke-linecap="butt"/>
<line x1="75.60" y1="378.60" x2="75.60" y2="390.00" stroke="#00bb00" stroke-width="2" stroke-linecap="butt"/>
<line x1="72.90" y1="378.60" x2="78.30" y2="378.60" stroke="#00bb00" stroke-width="2" stroke-linecap="butt"/>
<line x1="72.90" y1="390.00" x2="78.30" y2="390.00" stroke="#00bb00" stroke-width="2" stroke-linecap="butt"/>
<line x1="95.34" y1="367.00" x2="95.34" y2="388.00" stroke="#00bb00" stroke-width="2" stroke-linecap="butt"/>
<line x1="92.64" y1="367.00" x2="98.04" y2="367.00" stroke="#00bb00" stroke-width="2" stroke-linecap="butt"/>
<line x1="92.64" y1="388.00" x2="98.04" y2="388.00" stroke="#00bb00" stroke-width="2" stroke-linecap="butt"/>
<line x1="121.66" y1="388.70" x2="121.66" y2="397.90" stroke="#00bb00" stroke-width="2" stroke-linecap="butt"/>
<line x1="118.96" y1="388.70" x2="124.36" y2="388.70" stroke="#00bb00" stroke-width="2" stroke-linecap="butt"/>
<line x1="118.96" y1="397.90" x2="124.36" y2="397.90" stroke="#00bb00" stroke-width="2" stroke-linecap="butt"/>
<circle cx="42.70" cy="322.00" r="3.8" fill="#00bb00"/>
<circle cx="55.86" cy="340.90" r="3.8" fill="#00bb00"/>
<circle cx="75.60" cy="384.30" r="3.8" fill="#00bb00"/>
<circle cx="95.34" cy="377.50" r="3.8" fill="#00bb00"/>
<circle cx="121.66" cy="393.30" r="3.8" fill="#00bb00"/>
<polyline points="42.70,327.20 55.86,357.40 75.60,373.70 95.34,360.50 121.66,379.80 141.40,362.40 167.72,364.70 187.46,357.30 213.78,330.60 233.52,331.90 259.84,331.50 279.58,329.70 305.90,349.00" fill="none" stroke="#ff6400" stroke-width="2" stroke-linejoin="round"/>
<line x1="42.70" y1="320.90" x2="42.70" y2="333.50" stroke="#ff5a00" stroke-width="2" stroke-linecap="butt"/>
<line x1="40.00" y1="320.90" x2="45.40" y2="320.90" stroke="#ff5a00" stroke-width="2" stroke-linecap="butt"/>
<line x1="40.00" y1="333.50" x2="45.40" y2="333.50" stroke="#ff5a00" stroke-width="2" stroke-linecap="butt"/>
<line x1="55.86" y1="354.20" x2="55.86" y2="360.60" stroke="#ff5a00" stroke-width="2" stroke-linecap="butt"/>
<line x1="53.16" y1="354.20" x2="58.56" y2="354.20" stroke="#ff5a00" stroke-width="2" stroke-linecap="butt"/>
<line x1="53.16" y1="360.60" x2="58.56" y2="360.60" stroke="#ff5a00" stroke-width="2" stroke-linecap="butt"/>
<line x1="75.60" y1="369.50" x2="75.60" y2="377.90" stroke="#ff5a00" stroke-width="2" stroke-linecap="butt"/>
<line x1="72.90" y1="369.50" x2="78.30" y2="369.50" stroke="#ff5a00" stroke-width="2" stroke-linecap="butt"/>
<line x1="72.90" y1="377.90" x2="78.30" y2="377.90" stroke="#ff5a00" stroke-width="2" stroke-linecap="butt"/>
<line x1="95.34" y1="354.90" x2="95.34" y2="366.10" stroke="#ff5a00" stroke-width="2" stroke-linecap="butt"/>
<line x1="92.64" y1="354.90" x2="98.04" y2="354.90" stroke="#ff5a00" stroke-width="2" stroke-linecap="butt"/>
<line x1="92.64" y1="366.10" x2="98.04" y2="366.10" stroke="#ff5a00" stroke-width="2" stroke-linecap="butt"/>
<line x1="121.66" y1="375.20" x2="121.66" y2="384.40" stroke="#ff5a00" stroke-width="2" stroke-linecap="butt"/>
<line x1="118.96" y1="375.20" x2="124.36" y2="375.20" stroke="#ff5a00" stroke-width="2" stroke-linecap="butt"/>
<line x1="118.96" y1="384.40" x2="124.36" y2="384.40" stroke="#ff5a00" stroke-width="2" stroke-linecap="butt"/>
<line x1="141.40" y1="356.30" x2="141.40" y2="368.50" stroke="#ff5a00" stroke-width="2" stroke-linecap="butt"/>
<line x1="138.70" y1="356.30" x2="144.10" y2="356.30" stroke="#ff5a00" stroke-width="2" stroke-linecap="butt"/>
<line x1="138.70" y1="368.50" x2="144.10" y2="368.50" stroke="#ff5a00" stroke-width="2" stroke-linecap="butt"/>
<line x1="167.72" y1="359.40" x2="167.72" y2="370.00" stroke="#ff5a00" stroke-width="2" stroke-linecap="butt"/>
<line x1="165.02" y1="359.40" x2="170.42" y2="359.40" stroke="#ff5a00" stroke-width="2" stroke-linecap="butt"/>
<line x1="165.02" y1="370.00" x2="170.42" y2="370.00" stroke="#ff5a00" stroke-width="2" stroke-linecap="butt"/>
<line x1="187.46" y1="350.80" x2="187.46" y2="363.80" stroke="#ff5a00" stroke-width="2" stroke-linecap="butt"/>
<line x1="184.76" y1="350.80" x2="190.16" y2="350.80" stroke="#ff5a00" stroke-width="2" stroke-linecap="butt"/>
<line x1="184.76" y1="363.80" x2="190.16" y2="363.80" stroke="#ff5a00" stroke-width="2" stroke-linecap="butt"/>
<line x1="213.78" y1="326.60" x2="213.78" y2="334.60" stroke="#ff5a00" stroke-width="2" stroke-linecap="butt"/>
<line x1="211.08" y1="326.60" x2="216.48" y2="326.60" stroke="#ff5a00" stroke-width="2" stroke-linecap="butt"/>
<line x1="211.08" y1="334.60" x2="216.48" y2="334.60" stroke="#ff5a00" stroke-width="2" stroke-linecap="butt"/>
<line x1="233.52" y1="323.40" x2="233.52" y2="340.40" stroke="#ff5a00" stroke-width="2" stroke-linecap="butt"/>
<line x1="230.82" y1="323.40" x2="236.22" y2="323.40" stroke="#ff5a00" stroke-width="2" stroke-linecap="butt"/>
<line x1="230.82" y1="340.40" x2="236.22" y2="340.40" stroke="#ff5a00" stroke-width="2" stroke-linecap="butt"/>
<line x1="259.84" y1="325.10" x2="259.84" y2="337.90" stroke="#ff5a00" stroke-width="2" stroke-linecap="butt"/>
<line x1="257.14" y1="325.10" x2="262.54" y2="325.10" stroke="#ff5a00" stroke-width="2" stroke-linecap="butt"/>
<line x1="257.14" y1="337.90" x2="262.54" y2="337.90" stroke="#ff5a00" stroke-width="2" stroke-linecap="butt"/>
<line x1="279.58" y1="324.40" x2="279.58" y2="335.00" stroke="#ff5a00" stroke-width="2" stroke-linecap="butt"/>
<line x1="276.88" y1="324.40" x2="282.28" y2="324.40" stroke="#ff5a00" stroke-width="2" stroke-linecap="butt"/>
<line x1="276.88" y1="335.00" x2="282.28" y2="335.00" stroke="#ff5a00" stroke-width="2" stroke-linecap="butt"/>
<line x1="305.90" y1="345.30" x2="305.90" y2="352.70" stroke="#ff5a00" stroke-width="2" stroke-linecap="butt"/>
<line x1="303.20" y1="345.30" x2="308.60" y2="345.30" stroke="#ff5a00" stroke-width="2" stroke-linecap="butt"/>
<line x1="303.20" y1="352.70" x2="308.60" y2="352.70" stroke="#ff5a00" stroke-width="2" stroke-linecap="butt"/>
<rect x="39.50" y="324.00" width="6.4" height="6.4" fill="#ff8000"/>
<rect x="52.66" y="354.20" width="6.4" height="6.4" fill="#ff8000"/>
<rect x="72.40" y="370.50" width="6.4" height="6.4" fill="#ff8000"/>
<rect x="92.14" y="357.30" width="6.4" height="6.4" fill="#ff8000"/>
<rect x="118.46" y="376.60" width="6.4" height="6.4" fill="#ff8000"/>
<rect x="138.20" y="359.20" width="6.4" height="6.4" fill="#ff8000"/>
<rect x="164.52" y="361.50" width="6.4" height="6.4" fill="#ff8000"/>
<rect x="184.26" y="354.10" width="6.4" height="6.4" fill="#ff8000"/>
<rect x="210.58" y="327.40" width="6.4" height="6.4" fill="#ff8000"/>
<rect x="230.32" y="328.70" width="6.4" height="6.4" fill="#ff8000"/>
<rect x="256.64" y="328.30" width="6.4" height="6.4" fill="#ff8000"/>
<rect x="276.38" y="326.50" width="6.4" height="6.4" fill="#ff8000"/>
<rect x="302.70" y="345.80" width="6.4" height="6.4" fill="#ff8000"/>
<polyline points="42.70,312.90 55.86,328.00 75.60,326.50 95.34,337.10 121.66,347.20 141.40,340.10 167.72,342.70 187.46,345.10 213.78,341.10 233.52,349.40 259.84,354.20 279.58,362.00 305.90,364.30" fill="none" stroke="#230840" stroke-width="2" stroke-linejoin="round"/>
<line x1="42.70" y1="307.70" x2="42.70" y2="318.10" stroke="#230840" stroke-width="2" stroke-linecap="butt"/>
<line x1="40.00" y1="307.70" x2="45.40" y2="307.70" stroke="#230840" stroke-width="2" stroke-linecap="butt"/>
<line x1="40.00" y1="318.10" x2="45.40" y2="318.10" stroke="#230840" stroke-width="2" stroke-linecap="butt"/>
<line x1="55.86" y1="320.60" x2="55.86" y2="335.40" stroke="#230840" stroke-width="2" stroke-linecap="butt"/>
<line x1="53.16" y1="320.60" x2="58.56" y2="320.60" stroke="#230840" stroke-width="2" stroke-linecap="butt"/>
<line x1="53.16" y1="335.40" x2="58.56" y2="335.40" stroke="#230840" stroke-width="2" stroke-linecap="butt"/>
<line x1="75.60" y1="315.80" x2="75.60" y2="337.20" stroke="#230840" stroke-width="2" stroke-linecap="butt"/>
<line x1="72.90" y1="315.80" x2="78.30" y2="315.80" stroke="#230840" stroke-width="2" stroke-linecap="butt"/>
<line x1="72.90" y1="337.20" x2="78.30" y2="337.20" stroke="#230840" stroke-width="2" stroke-linecap="butt"/>
<line x1="95.34" y1="326.80" x2="95.34" y2="347.40" stroke="#230840" stroke-width="2" stroke-linecap="butt"/>
<line x1="92.64" y1="326.80" x2="98.04" y2="326.80" stroke="#230840" stroke-width="2" stroke-linecap="butt"/>
<line x1="92.64" y1="347.40" x2="98.04" y2="347.40" stroke="#230840" stroke-width="2" stroke-linecap="butt"/>
<line x1="121.66" y1="336.70" x2="121.66" y2="357.70" stroke="#230840" stroke-width="2" stroke-linecap="butt"/>
<line x1="118.96" y1="336.70" x2="124.36" y2="336.70" stroke="#230840" stroke-width="2" stroke-linecap="butt"/>
<line x1="118.96" y1="357.70" x2="124.36" y2="357.70" stroke="#230840" stroke-width="2" stroke-linecap="butt"/>
<line x1="141.40" y1="331.00" x2="141.40" y2="349.20" stroke="#230840" stroke-width="2" stroke-linecap="butt"/>
<line x1="138.70" y1="331.00" x2="144.10" y2="331.00" stroke="#230840" stroke-width="2" stroke-linecap="butt"/>
<line x1="138.70" y1="349.20" x2="144.10" y2="349.20" stroke="#230840" stroke-width="2" stroke-linecap="butt"/>
<line x1="167.72" y1="333.90" x2="167.72" y2="351.50" stroke="#230840" stroke-width="2" stroke-linecap="butt"/>
<line x1="165.02" y1="333.90" x2="170.42" y2="333.90" stroke="#230840" stroke-width="2" stroke-linecap="butt"/>
<line x1="165.02" y1="351.50" x2="170.42" y2="351.50" stroke="#230840" stroke-width="2" stroke-linecap="butt"/>
<line x1="187.46" y1="335.30" x2="187.46" y2="354.90" stroke="#230840" stroke-width="2" stroke-linecap="butt"/>
<line x1="184.76" y1="335.30" x2="190.16" y2="335.30" stroke="#230840" stroke-width="2" stroke-linecap="butt"/>
<line x1="184.76" y1="354.90" x2="190.16" y2="354.90" stroke="#230840" stroke-width="2" stroke-linecap="butt"/>
<line x1="213.78" y1="333.80" x2="213.78" y2="348.40" stroke="#230840" stroke-width="2" stroke-linecap="butt"/>
<line x1="211.08" y1="333.80" x2="216.48" y2="333.80" stroke="#230840" stroke-width="2" stroke-linecap="butt"/>
<line x1="211.08" y1="348.40" x2="216.48" y2="348.40" stroke="#230840" stroke-width="2" stroke-linecap="butt"/>
<line x1="233.52" y1="341.50" x2="233.52" y2="357.30" stroke="#230840" stroke-width="2" stroke-linecap="butt"/>
<line x1="230.82" y1="341.50" x2="236.22" y2="341.50" stroke="#230840" stroke-width="2" stroke-linecap="butt"/>
<line x1="230.82" y1="357.30" x2="236.22" y2="357.30" stroke="#230840" stroke-width="2" stroke-linecap="butt"/>
<line x1="259.84" y1="346.30" x2="259.84" y2="362.10" stroke="#230840" stroke-width="2" stroke-linecap="butt"/>
<line x1="257.14" y1="346.30" x2="262.54" y2="346.30" stroke="#230840" stroke-width="2" stroke-linecap="butt"/>
<line x1="257.14" y1="362.10" x2="262.54" y2="362.10" stroke="#230840" stroke-width="2" stroke-linecap="butt"/>
<line x1="279.58" y1="356.50" x2="279.58" y2="367.50" stroke="#230840" stroke-width="2" stroke-linecap="butt"/>
<line x1="276.88" y1="356.50" x2="282.28" y2="356.50" stroke="#230840" stroke-width="2" stroke-linecap="butt"/>
<line x1="276.88" y1="367.50" x2="282.28" y2="367.50" stroke="#230840" stroke-width="2" stroke-linecap="butt"/>
<line x1="305.90" y1="357.70" x2="305.90" y2="370.90" stroke="#230840" stroke-width="2" stroke-linecap="butt"/>
<line x1="303.20" y1="357.70" x2="308.60" y2="357.70" stroke="#230840" stroke-width="2" stroke-linecap="butt"/>
<line x1="303.20" y1="370.90" x2="308.60" y2="370.90" stroke="#230840" stroke-width="2" stroke-linecap="butt"/>
<circle cx="42.70" cy="312.90" r="2.6" fill="#3e0862" stroke="#230840" stroke-width="0.8"/>
<circle cx="55.86" cy="328.00" r="2.6" fill="#3e0862" stroke="#230840" stroke-width="0.8"/>
<circle cx="75.60" cy="326.50" r="2.6" fill="#3e0862" stroke="#230840" stroke-width="0.8"/>
<circle cx="95.34" cy="337.10" r="2.6" fill="#3e0862" stroke="#230840" stroke-width="0.8"/>
<circle cx="121.66" cy="347.20" r="2.6" fill="#3e0862" stroke="#230840" stroke-width="0.8"/>
<circle cx="141.40" cy="340.10" r="2.6" fill="#3e0862" stroke="#230840" stroke-width="0.8"/>
<circle cx="167.72" cy="342.70" r="2.6" fill="#3e0862" stroke="#230840" stroke-width="0.8"/>
<circle cx="187.46" cy="345.10" r="2.6" fill="#3e0862" stroke="#230840" stroke-width="0.8"/>
<circle cx="213.78" cy="341.10" r="2.6" fill="#3e0862" stroke="#230840" stroke-width="0.8"/>
<circle cx="233.52" cy="349.40" r="2.6" fill="#3e0862" stroke="#230840" stroke-width="0.8"/>
<circle cx="259.84" cy="354.20" r="2.6" fill="#3e0862" stroke="#230840" stroke-width="0.8"/>
<circle cx="279.58" cy="362.00" r="2.6" fill="#3e0862" stroke="#230840" stroke-width="0.8"/>
<circle cx="305.90" cy="364.30" r="2.6" fill="#3e0862" stroke="#230840" stroke-width="0.8"/>
<text x="51.80" y="284.70" font-size="23" text-anchor="start" fill="#000" >b</text>
<text transform="translate(174.60,481.90) scale(1,1.03)" font-size="14.35" text-anchor="middle" fill="#000" >Time after injection (days)</text>
<text transform="translate(12.6,411.7) rotate(-90)" font-size="14.6">Body weight(g)</text>
<line x1="330.70" y1="280.40" x2="348.90" y2="280.40" stroke="#230840" stroke-width="2" stroke-linecap="butt"/>
<circle cx="339.80" cy="280.40" r="2.8" fill="#3e0862" stroke="#230840" stroke-width="0.8"/>
<line x1="330.70" y1="300.90" x2="349.10" y2="300.90" stroke="#ff6400" stroke-width="2" stroke-linecap="butt"/>
<rect x="337.10" y="297.90" width="6" height="6" fill="#ff8000"/>
<line x1="331.30" y1="320.00" x2="350.00" y2="320.00" stroke="#00bb00" stroke-width="2" stroke-linecap="butt"/>
<circle cx="340.90" cy="320.00" r="3.6" fill="#00bb00"/>
<line x1="331.30" y1="339.40" x2="350.00" y2="339.40" stroke="#ff0000" stroke-width="2" stroke-linecap="butt"/>
<circle cx="340.90" cy="339.40" r="2.9" fill="#ff0000"/>
<text transform="translate(360.41,286.20) scale(1,1.058)" font-size="14.77" text-anchor="start" fill="#000" letter-spacing="-0.296">Group 1 Vehicle</text>
<text transform="translate(360.41,308.70) scale(1,1.058)" font-size="14.77" text-anchor="start" fill="#000" letter-spacing="-0.136">Group 2</text>
<text transform="translate(425.29,308.70) scale(1,1.058)" font-size="14.77" text-anchor="start" fill="#000" >[</text>
<text transform="translate(430.66,300.70) scale(1,1.058)" font-size="10.19" text-anchor="start" fill="#000" letter-spacing="0.188">177</text>
<text transform="translate(448.90,308.70) scale(1,1.058)" font-size="14.77" text-anchor="start" fill="#000" letter-spacing="-0.355">Lu]Lu-PSMA-617</text>
<text transform="translate(577.25,308.70) scale(1,1.058)" font-size="14.77" text-anchor="start" fill="#000" letter-spacing="-0.517">60 MBq</text>
<text transform="translate(361.21,327.90) scale(1,1.058)" font-size="14.77" text-anchor="start" fill="#000" letter-spacing="-0.148">Group 3</text>
<text transform="translate(426.69,327.90) scale(1,1.058)" font-size="14.77" text-anchor="start" fill="#000" >[</text>
<text transform="translate(431.26,320.10) scale(1,1.058)" font-size="10.19" text-anchor="start" fill="#000" letter-spacing="0.188">177</text>
<text transform="translate(450.10,327.90) scale(1,1.058)" font-size="14.77" text-anchor="start" fill="#000" letter-spacing="-0.174">Lu]Lu-BT-117016</text>
<text transform="translate(579.25,327.90) scale(1,1.058)" font-size="14.77" text-anchor="start" fill="#000" letter-spacing="-0.417">60 MBq</text>
<text transform="translate(361.21,347.60) scale(1,1.058)" font-size="14.77" text-anchor="start" fill="#000" letter-spacing="-0.222">Group 4</text>
<text transform="translate(426.89,347.60) scale(1,1.058)" font-size="14.77" text-anchor="start" fill="#000" >[</text>
<text transform="translate(431.26,339.40) scale(1,1.058)" font-size="10.19" text-anchor="start" fill="#000" letter-spacing="0.188">177</text>
<text transform="translate(450.10,347.60) scale(1,1.058)" font-size="14.77" text-anchor="start" fill="#000" letter-spacing="-0.174">Lu]Lu-BT-117016</text>
<text transform="translate(579.28,347.60) scale(1,1.058)" font-size="14.77" text-anchor="start" fill="#000" letter-spacing="-0.425">20 MBq</text>
<line x1="53.10" y1="521.30" x2="53.10" y2="699.60" stroke="#000" stroke-width="2" stroke-linecap="butt"/>
<line x1="52.10" y1="698.60" x2="320.10" y2="698.60" stroke="#000" stroke-width="2" stroke-linecap="butt"/>
<line x1="49.30" y1="680.97" x2="53.10" y2="680.97" stroke="#000" stroke-width="2" stroke-linecap="butt"/>
<line x1="49.30" y1="645.71" x2="53.10" y2="645.71" stroke="#000" stroke-width="2" stroke-linecap="butt"/>
<line x1="49.30" y1="610.45" x2="53.10" y2="610.45" stroke="#000" stroke-width="2" stroke-linecap="butt"/>
<line x1="49.30" y1="575.19" x2="53.10" y2="575.19" stroke="#000" stroke-width="2" stroke-linecap="butt"/>
<line x1="49.30" y1="539.93" x2="53.10" y2="539.93" stroke="#000" stroke-width="2" stroke-linecap="butt"/>
<line x1="46.10" y1="698.60" x2="53.10" y2="698.60" stroke="#000" stroke-width="2" stroke-linecap="butt"/>
<text x="44.10" y="703.10" font-size="13.4" text-anchor="end" fill="#000" >0</text>
<line x1="46.10" y1="663.34" x2="53.10" y2="663.34" stroke="#000" stroke-width="2" stroke-linecap="butt"/>
<text x="44.10" y="667.84" font-size="13.4" text-anchor="end" fill="#000" >20</text>
<line x1="46.10" y1="628.08" x2="53.10" y2="628.08" stroke="#000" stroke-width="2" stroke-linecap="butt"/>
<text x="44.10" y="632.58" font-size="13.4" text-anchor="end" fill="#000" >40</text>
<line x1="46.10" y1="592.82" x2="53.10" y2="592.82" stroke="#000" stroke-width="2" stroke-linecap="butt"/>
<text x="44.10" y="597.32" font-size="13.4" text-anchor="end" fill="#000" >60</text>
<line x1="46.10" y1="557.56" x2="53.10" y2="557.56" stroke="#000" stroke-width="2" stroke-linecap="butt"/>
<text x="44.10" y="562.06" font-size="13.4" text-anchor="end" fill="#000" >80</text>
<line x1="46.10" y1="522.30" x2="53.10" y2="522.30" stroke="#000" stroke-width="2" stroke-linecap="butt"/>
<text x="44.10" y="526.80" font-size="13.4" text-anchor="end" fill="#000" >100</text>
<line x1="53.10" y1="698.60" x2="53.10" y2="705.80" stroke="#000" stroke-width="2" stroke-linecap="butt"/>
<text x="53.10" y="721.10" font-size="13.4" text-anchor="middle" fill="#000" >0</text>
<line x1="59.75" y1="698.60" x2="59.75" y2="702.60" stroke="#000" stroke-width="2" stroke-linecap="butt"/>
<line x1="66.40" y1="698.60" x2="66.40" y2="702.60" stroke="#000" stroke-width="2" stroke-linecap="butt"/>
<line x1="73.05" y1="698.60" x2="73.05" y2="702.60" stroke="#000" stroke-width="2" stroke-linecap="butt"/>
<line x1="79.70" y1="698.60" x2="79.70" y2="705.80" stroke="#000" stroke-width="2" stroke-linecap="butt"/>
<text x="79.70" y="721.10" font-size="13.4" text-anchor="middle" fill="#000" >4</text>
<line x1="86.35" y1="698.60" x2="86.35" y2="702.60" stroke="#000" stroke-width="2" stroke-linecap="butt"/>
<line x1="93.00" y1="698.60" x2="93.00" y2="702.60" stroke="#000" stroke-width="2" stroke-linecap="butt"/>
<line x1="99.65" y1="698.60" x2="99.65" y2="702.60" stroke="#000" stroke-width="2" stroke-linecap="butt"/>
<line x1="106.30" y1="698.60" x2="106.30" y2="705.80" stroke="#000" stroke-width="2" stroke-linecap="butt"/>
<text x="106.30" y="721.10" font-size="13.4" text-anchor="middle" fill="#000" >8</text>
<line x1="112.95" y1="698.60" x2="112.95" y2="702.60" stroke="#000" stroke-width="2" stroke-linecap="butt"/>
<line x1="119.60" y1="698.60" x2="119.60" y2="702.60" stroke="#000" stroke-width="2" stroke-linecap="butt"/>
<line x1="126.25" y1="698.60" x2="126.25" y2="702.60" stroke="#000" stroke-width="2" stroke-linecap="butt"/>
<line x1="132.90" y1="698.60" x2="132.90" y2="705.80" stroke="#000" stroke-width="2" stroke-linecap="butt"/>
<text x="132.90" y="721.10" font-size="13.4" text-anchor="middle" fill="#000" >12</text>
<line x1="139.55" y1="698.60" x2="139.55" y2="702.60" stroke="#000" stroke-width="2" stroke-linecap="butt"/>
<line x1="146.20" y1="698.60" x2="146.20" y2="702.60" stroke="#000" stroke-width="2" stroke-linecap="butt"/>
<line x1="152.85" y1="698.60" x2="152.85" y2="702.60" stroke="#000" stroke-width="2" stroke-linecap="butt"/>
<line x1="159.50" y1="698.60" x2="159.50" y2="705.80" stroke="#000" stroke-width="2" stroke-linecap="butt"/>
<text x="159.50" y="721.10" font-size="13.4" text-anchor="middle" fill="#000" >16</text>
<line x1="166.15" y1="698.60" x2="166.15" y2="702.60" stroke="#000" stroke-width="2" stroke-linecap="butt"/>
<line x1="172.80" y1="698.60" x2="172.80" y2="702.60" stroke="#000" stroke-width="2" stroke-linecap="butt"/>
<line x1="179.45" y1="698.60" x2="179.45" y2="702.60" stroke="#000" stroke-width="2" stroke-linecap="butt"/>
<line x1="186.10" y1="698.60" x2="186.10" y2="705.80" stroke="#000" stroke-width="2" stroke-linecap="butt"/>
<text x="186.10" y="721.10" font-size="13.4" text-anchor="middle" fill="#000" >20</text>
<line x1="192.75" y1="698.60" x2="192.75" y2="702.60" stroke="#000" stroke-width="2" stroke-linecap="butt"/>
<line x1="199.40" y1="698.60" x2="199.40" y2="702.60" stroke="#000" stroke-width="2" stroke-linecap="butt"/>
<line x1="206.05" y1="698.60" x2="206.05" y2="702.60" stroke="#000" stroke-width="2" stroke-linecap="butt"/>
<line x1="212.70" y1="698.60" x2="212.70" y2="705.80" stroke="#000" stroke-width="2" stroke-linecap="butt"/>
<text x="212.70" y="721.10" font-size="13.4" text-anchor="middle" fill="#000" >24</text>
<line x1="219.35" y1="698.60" x2="219.35" y2="702.60" stroke="#000" stroke-width="2" stroke-linecap="butt"/>
<line x1="226.00" y1="698.60" x2="226.00" y2="702.60" stroke="#000" stroke-width="2" stroke-linecap="butt"/>
<line x1="232.65" y1="698.60" x2="232.65" y2="702.60" stroke="#000" stroke-width="2" stroke-linecap="butt"/>
<line x1="239.30" y1="698.60" x2="239.30" y2="705.80" stroke="#000" stroke-width="2" stroke-linecap="butt"/>
<text x="239.30" y="721.10" font-size="13.4" text-anchor="middle" fill="#000" >28</text>
<line x1="245.95" y1="698.60" x2="245.95" y2="702.60" stroke="#000" stroke-width="2" stroke-linecap="butt"/>
<line x1="252.60" y1="698.60" x2="252.60" y2="702.60" stroke="#000" stroke-width="2" stroke-linecap="butt"/>
<line x1="259.25" y1="698.60" x2="259.25" y2="702.60" stroke="#000" stroke-width="2" stroke-linecap="butt"/>
<line x1="265.90" y1="698.60" x2="265.90" y2="705.80" stroke="#000" stroke-width="2" stroke-linecap="butt"/>
<text x="265.90" y="721.10" font-size="13.4" text-anchor="middle" fill="#000" >32</text>
<line x1="272.55" y1="698.60" x2="272.55" y2="702.60" stroke="#000" stroke-width="2" stroke-linecap="butt"/>
<line x1="279.20" y1="698.60" x2="279.20" y2="702.60" stroke="#000" stroke-width="2" stroke-linecap="butt"/>
<line x1="285.85" y1="698.60" x2="285.85" y2="702.60" stroke="#000" stroke-width="2" stroke-linecap="butt"/>
<line x1="292.50" y1="698.60" x2="292.50" y2="705.80" stroke="#000" stroke-width="2" stroke-linecap="butt"/>
<text x="292.50" y="721.10" font-size="13.4" text-anchor="middle" fill="#000" >36</text>
<line x1="299.15" y1="698.60" x2="299.15" y2="702.60" stroke="#000" stroke-width="2" stroke-linecap="butt"/>
<line x1="305.80" y1="698.60" x2="305.80" y2="702.60" stroke="#000" stroke-width="2" stroke-linecap="butt"/>
<line x1="312.45" y1="698.60" x2="312.45" y2="702.60" stroke="#000" stroke-width="2" stroke-linecap="butt"/>
<line x1="319.10" y1="698.60" x2="319.10" y2="705.80" stroke="#000" stroke-width="2" stroke-linecap="butt"/>
<text x="319.10" y="721.10" font-size="13.4" text-anchor="middle" fill="#000" >40</text>
<line x1="53.10" y1="523.30" x2="319.00" y2="523.30" stroke="#ffc8c0" stroke-width="0.7" stroke-linecap="butt"/>
<line x1="53.10" y1="522.40" x2="319.00" y2="522.40" stroke="#3c2c3a" stroke-width="1.4" stroke-linecap="butt"/>
<line x1="319.00" y1="522.40" x2="321.00" y2="522.40" stroke="#ff2a10" stroke-width="1.4" stroke-linecap="butt"/>
<polyline points="119.60,522.40 119.60,551.69 132.90,551.69 132.90,610.45 146.20,610.45 146.20,639.84 152.85,639.84 152.85,698.60" fill="none" stroke="#00b400" stroke-width="2" stroke-linejoin="round"/>
<text transform="translate(63.70,509.90) scale(1,1.08)" font-size="22.5" text-anchor="start" fill="#000" >c</text>
<text transform="translate(186.60,743.00) scale(1,1.07)" font-size="14.45" text-anchor="middle" fill="#000" >Time after injection (days)</text>
<text transform="translate(14.0,662.4) rotate(-90)" font-size="15.2" letter-spacing="0.25">Survival</text>
<path d="M1.6,575.6 Q9,566.2 16.4,575.6" fill="none" stroke="#000" stroke-width="3.8"/>
<path d="M1.6,593.2 Q9,601.6 16.4,593.2" fill="none" stroke="#000" stroke-width="3.8"/>
<ellipse cx="11.5" cy="579.9" rx="1.7" ry="1.4" fill="none" stroke="#000" stroke-width="1.45"/>
<ellipse cx="6.0" cy="586.7" rx="2.0" ry="1.4" fill="none" stroke="#000" stroke-width="1.45"/>
<line x1="3.4" y1="580.3" x2="13.8" y2="585.8" stroke="#000" stroke-width="1.3"/>
<line x1="336.10" y1="547.60" x2="355.00" y2="547.60" stroke="#1e0632" stroke-width="2" stroke-linecap="butt"/>
<line x1="345.50" y1="547.60" x2="345.50" y2="544.10" stroke="#1e0632" stroke-width="1.6" stroke-linecap="butt"/>
<line x1="336.10" y1="569.10" x2="355.00" y2="569.10" stroke="#ff4a14" stroke-width="2" stroke-linecap="butt"/>
<line x1="345.50" y1="569.10" x2="345.50" y2="565.60" stroke="#ff4a14" stroke-width="1.6" stroke-linecap="butt"/>
<line x1="337.50" y1="590.20" x2="356.30" y2="590.20" stroke="#00bb00" stroke-width="2" stroke-linecap="butt"/>
<line x1="346.80" y1="590.20" x2="346.80" y2="586.70" stroke="#00bb00" stroke-width="1.6" stroke-linecap="butt"/>
<line x1="337.50" y1="611.60" x2="356.30" y2="611.60" stroke="#ff0000" stroke-width="2" stroke-linecap="butt"/>
<line x1="346.80" y1="611.60" x2="346.80" y2="608.10" stroke="#ff0000" stroke-width="1.6" stroke-linecap="butt"/>
<text transform="translate(366.12,553.10) scale(1,1.019)" font-size="14.46" text-anchor="start" fill="#000" letter-spacing="-0.338">Group 1</text>
<text transform="translate(432.39,553.10) scale(1,1.019)" font-size="14.46" text-anchor="start" fill="#000" letter-spacing="-0.604">Vehicle</text>
<text transform="translate(366.12,576.60) scale(1,1.019)" font-size="14.46" text-anchor="start" fill="#000" letter-spacing="0.126">Group 2</text>
<text transform="translate(431.90,576.60) scale(1,1.019)" font-size="14.46" text-anchor="start" fill="#000" >[</text>
<text transform="translate(437.26,570.00) scale(1,1.019)" font-size="10.19" text-anchor="start" fill="#000" letter-spacing="0.287">177</text>
<text transform="translate(455.12,576.60) scale(1,1.019)" font-size="14.46" text-anchor="start" fill="#000" letter-spacing="-0.012">Lu]Lu-PSMA-617</text>
<text transform="translate(584.26,576.60) scale(1,1.019)" font-size="14.46" text-anchor="start" fill="#000" letter-spacing="0.018">60 MBq</text>
<text transform="translate(367.82,598.00) scale(1,1.019)" font-size="14.46" text-anchor="start" fill="#000" letter-spacing="0.147">Group 3</text>
<text transform="translate(433.80,598.00) scale(1,1.019)" font-size="14.46" text-anchor="start" fill="#000" >[</text>
<text transform="translate(438.86,591.40) scale(1,1.019)" font-size="10.19" text-anchor="start" fill="#000" letter-spacing="0.287">177</text>
<text transform="translate(457.02,598.00) scale(1,1.019)" font-size="14.46" text-anchor="start" fill="#000" letter-spacing="0.095">Lu]Lu-BT-117016</text>
<text transform="translate(587.56,598.00) scale(1,1.019)" font-size="14.46" text-anchor="start" fill="#000" letter-spacing="-0.022">60 MBq</text>
<text transform="translate(367.82,619.40) scale(1,1.019)" font-size="14.46" text-anchor="start" fill="#000" letter-spacing="0.075">Group 4</text>
<text transform="translate(434.00,619.40) scale(1,1.019)" font-size="14.46" text-anchor="start" fill="#000" >[</text>
<text transform="translate(438.86,612.80) scale(1,1.019)" font-size="10.19" text-anchor="start" fill="#000" letter-spacing="0.287">177</text>
<text transform="translate(457.02,619.40) scale(1,1.019)" font-size="14.46" text-anchor="start" fill="#000" letter-spacing="0.095">Lu]Lu-BT-117016</text>
<text transform="translate(587.59,619.40) scale(1,1.019)" font-size="14.46" text-anchor="start" fill="#000" letter-spacing="-0.029">20 MBq</text>
</g>
</svg>
</body></html>
